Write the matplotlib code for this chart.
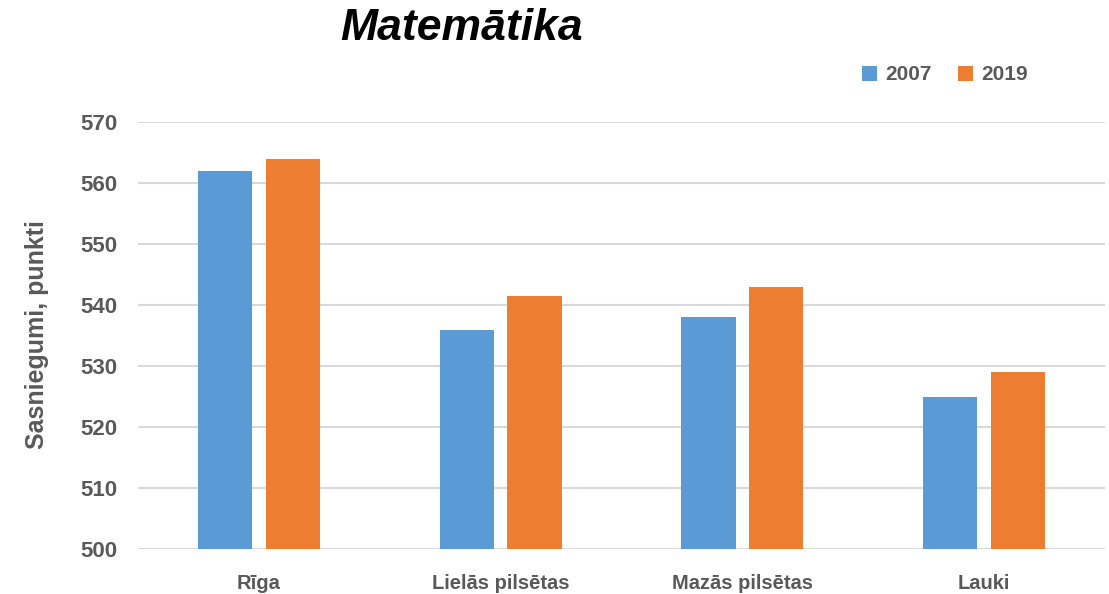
import matplotlib
matplotlib.use('Agg')
import matplotlib.pyplot as plt
import numpy as np

categories = ['Rīga', 'Lielās pilsētas', 'Mazās pilsētas', 'Lauki']
scores_2007 = [562, 536, 538, 525]
scores_2019 = [564, 541.5, 543, 529]
yticks = [500, 510, 520, 530, 540, 550, 560, 570]

plt.rcParams['font.family'] = ['Liberation Sans', 'DejaVu Sans']
grey = '#595959'


def plot_chart():
    fig = plt.figure(figsize=(11.09, 5.94), dpi=100)
    ax = fig.add_axes([0.1244, 0.0752, 0.872, 0.7194])

    x = np.arange(len(categories))
    width = 0.224
    off = 0.14
    ax.bar(x - off, scores_2007, width, color='#5B9BD5', label='2007', zorder=3)
    ax.bar(x + off, scores_2019, width, color='#ED7D31', label='2019', zorder=3)

    ax.set_xlim(-0.5, 3.5)
    ax.set_ylim(500, 570)
    ax.set_yticks(yticks)
    ax.set_xticks(x)
    ax.set_xticklabels(categories)
    ax.grid(axis='y', color='#D9D9D9', linewidth=1.5, zorder=0)
    for s in ax.spines.values():
        s.set_visible(False)
    ax.tick_params(length=0, labelcolor=grey)
    ax.tick_params(axis='y', labelsize=16, pad=15)
    ax.tick_params(axis='x', labelsize=14.5, pad=18)
    for lab in ax.get_xticklabels() + ax.get_yticklabels():
        lab.set_fontweight('bold')

    fig.text(37 / 1109, 1 - 335 / 594, 'Sasniegumi, punkti', rotation=90,
             ha='center', va='center', fontsize=18, fontweight='bold', color=grey)
    fig.text(462 / 1109, 1 - 29 / 594, 'Matemātika', ha='center', va='center',
             fontsize=32, fontweight='bold', fontstyle='italic', color='black')

    fig.legend(loc='center', bbox_to_anchor=(945 / 1109, 1 - 75 / 594), ncol=2,
               frameon=False, handlelength=0.7, handleheight=0.7,
               handletextpad=0.4, columnspacing=1.3,
               prop={'size': 15, 'weight': 'bold'}, labelcolor=grey)

    fig.savefig('out.png', dpi=100)


if __name__ == '__main__':
    plot_chart()
